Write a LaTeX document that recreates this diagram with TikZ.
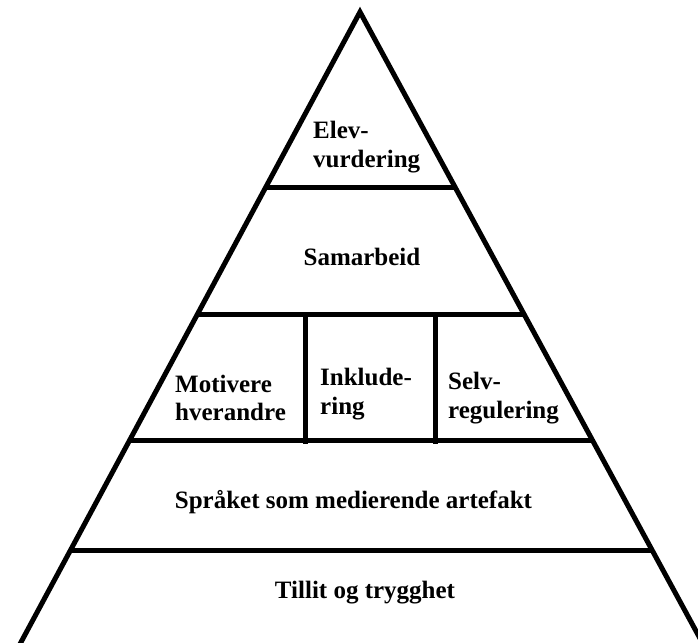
\documentclass[tikz,border=0pt]{standalone}
\usepackage{fontspec}
\setmainfont{Liberation Serif}
\begin{document}
\begin{tikzpicture}[x=1pt,y=-1pt,
  edge/.style={line width=5pt,black},
  lbl/.style={font=\fontsize{25}{28.5}\selectfont\bfseries,inner sep=0pt,align=left,text=black}]
\useasboundingbox (0,0) rectangle (698,642);
\begin{scope}
\clip (0,0) rectangle (698,642);
\coordinate (apex) at (360,12);
\coordinate (bl) at (16.8,650);
\coordinate (br) at (706.3,650);
\draw[edge,line join=miter] (bl) -- (apex) -- (br);
\coordinate (l1) at (265.7,187); \coordinate (r1) at (455.0,187);
\coordinate (l2) at (197.2,314); \coordinate (r2) at (524.0,314);
\coordinate (l3) at (129.3,440); \coordinate (r3) at (592.4,440);
\coordinate (l4) at (70,550);    \coordinate (r4) at (652,550);
\draw[edge] (l1) -- (r1);
\draw[edge] (l2) -- (r2);
\draw[edge] (l3) -- (r3);
\draw[edge] (l4) -- (r4);
\coordinate (d1t) at (305,314); \coordinate (d1b) at (305,444);
\coordinate (d2t) at (435,314); \coordinate (d2b) at (435,444);
\draw[edge] (d1t) -- (d1b);
\draw[edge] (d2t) -- (d2b);
\end{scope}
\node[lbl,anchor=west] (elev) at (313,147) {Elev-\\vurdering};
\node[lbl,anchor=base] (sam) at (362,265) {Samarbeid};
\node[lbl,anchor=west] (mot) at (175,398) {Motivere\\hverandre};
\node[lbl,anchor=west] (ink) at (320,394) {Inklude-\\ring};
\node[lbl,anchor=west] (selv) at (448,398) {Selv-\\regulering};
\node[lbl,anchor=base] (spr) at (353.5,508) {Språket som medierende artefakt};
\node[lbl,anchor=base] (till) at (365,598) {Tillit og trygghet};
\end{tikzpicture}
\end{document}
